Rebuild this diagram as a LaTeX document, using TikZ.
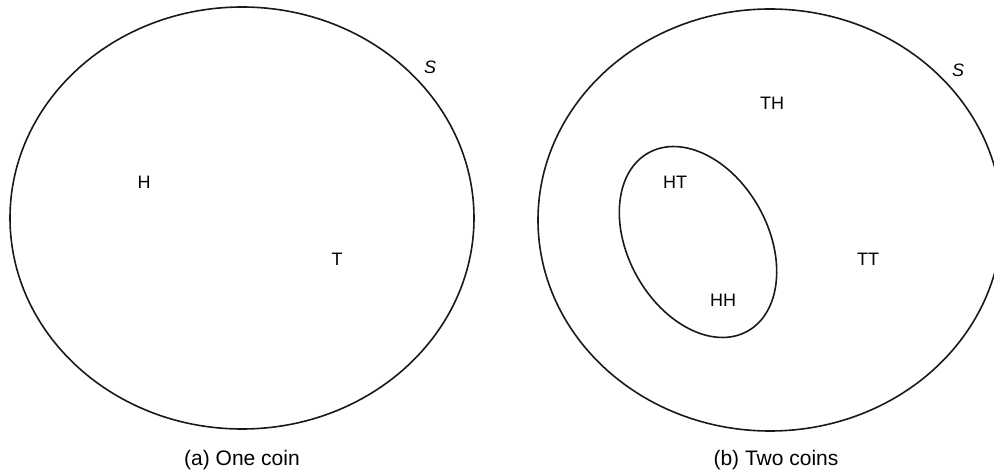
\documentclass[tikz,border=0pt]{standalone}
\usepackage{fontspec}
\setmainfont{Liberation Sans}
\begin{document}
\begin{tikzpicture}[x=1pt,y=-1pt,
  outline/.style={draw=black!90,line width=1.6pt},
  lbl/.style={inner sep=0pt,font=\fontsize{18}{21}\selectfont},
  captext/.style={inner sep=0pt,font=\fontsize{21}{25}\selectfont}]
\useasboundingbox (0,0) rectangle (994,473);
\clip (0,0) rectangle (994,473);

% (a) one coin
\draw[outline] (242,218) ellipse [x radius=232, y radius=211];
\node[lbl] (sa) at (430,67) {\itshape S};
\node[lbl] (h) at (144,182) {H};
\node[lbl] (t) at (337,259) {T};
\node[captext] (capa) at (242,460) {(a) One coin};

% (b) two coins
\draw[outline] (770,220) ellipse [x radius=232, y radius=211];
\draw[outline] (698,242) ellipse [x radius=102, y radius=70, rotate=-61];
\node[lbl] (sb) at (958,70) {\itshape S};
\node[lbl] (th) at (772,103) {TH};
\node[lbl] (ht) at (675,182) {HT};
\node[lbl] (tt) at (868,259) {TT};
\node[lbl] (hh) at (723,300) {HH};
\node[captext] (capb) at (776,460) {(b) Two coins};
\end{tikzpicture}
\end{document}
